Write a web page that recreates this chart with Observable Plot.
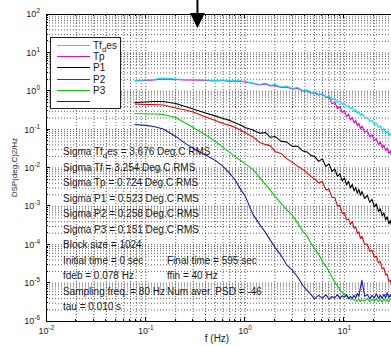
<!DOCTYPE html>
<html><head><meta charset="utf-8">
<script src="https://cdn.jsdelivr.net/npm/d3@7"></script>
<script src="https://cdn.jsdelivr.net/npm/@observablehq/plot@0.6"></script>
<style>
body{margin:0;background:#fff;}
#chart{width:391px;height:346px;overflow:hidden;}
</style></head><body><div id="chart"></div>
<script>
// frequency grid (Hz)
const freqHz = [0.078,0.1,0.12,0.15,0.2,0.25,0.3,0.4,0.5,0.6,0.7,0.8,0.9,1.0,
  1.2,1.4,1.6,1.8,2.0,2.3,2.6,3.0,3.4,3.8,4.2,4.6,5.0,
  5.5,6,6.5,7,7.5,8,8.5,9,9.5,10,10.5,11,11.5,12,12.5,13,13.5,14,14.5,15,
  16,17,18,19,20,21,22,23,24,25,26,27,28,29,30];

// PSD series (deg.C^2/Hz)
const psdTfDes = [1.91,1.97,2.03,2.22,2.09,2.03,2.03,1.97,1.91,1.97,1.85,1.91,1.85,1.80,
  1.64,1.50,1.64,1.42,1.50,1.29,1.37,1.18,1.26,1.05,1.08,0.93,0.96,
  0.83,0.85,0.71,0.73,0.61,0.65,0.51,0.56,0.45,0.48,0.39,0.43,0.346,0.378,0.298,0.336,0.264,0.298,0.234,0.264,
  0.202,0.208,0.164,0.174,0.136,0.149,0.114,0.125,0.095,0.107,0.080,0.090,0.069,0.080,0.063];
const psdTf = [1.85,1.91,1.97,2.09,2.03,1.97,1.97,1.91,1.85,1.91,1.80,1.85,1.80,1.75,
  1.60,1.46,1.55,1.37,1.42,1.26,1.29,1.15,1.18,1.02,1.02,0.90,0.90,
  0.80,0.85,0.690,0.702,0.472,0.518,0.356,0.400,0.277,0.313,0.221,0.252,0.180,0.208,0.149,0.174,0.125,0.146,0.106,0.125,
  0.0851,0.0942,0.0650,0.0733,0.0514,0.0583,0.0414,0.0475,0.034,0.0394,0.0284,0.033,0.024,0.0282,0.0195];
const psdTp = [0.51,0.526,0.542,0.542,0.48,0.402,0.346,0.272,0.228,0.196,0.174,0.149,0.132,0.114,
  0.098,0.080,0.0845,0.063,0.0665,0.0493,0.0479,0.0365,0.0365,0.0279,0.0262,0.0213,0.020,
  0.0149,0.0173,0.011,0.0128,0.00815,0.00948,0.00604,0.00702,0.00461,0.00552,0.00363,0.00448,0.00303,0.00374,0.00253,0.00313,0.00218,0.00277,0.00193,0.00246,
  0.00161,0.00193,0.00127,0.00152,0.00097,0.00116,0.000741,0.000861,0.000566,0.000678,0.000445,0.000533,0.00035,0.000432,0.000292];
const psdP1 = [0.467,0.453,0.453,0.44,0.367,0.326,0.289,0.214,0.174,0.145,0.129,0.114,0.098,0.0845,
  0.0646,0.0464,0.0412,0.0377,0.027,0.024,0.0178,0.014,0.011,0.0092,0.00745,0.00604,0.0052,
  0.00409,0.00448,0.00269,0.00277,0.00171,0.00171,0.00103,0.00106,0.000658,0.000678,0.000445,0.000472,0.00034,0.000406,0.000267,0.000292,0.000198,0.000217,0.000147,0.000166,
  0.000102,0.000105,0.0000673,0.0000714,0.000047,0.0000499,0.0000338,0.000037,0.0000236,0.000025,0.0000164,0.0000169,0.0000111,0.0000118,0.0000078];
const psdP2 = [0.264,0.256,0.256,0.249,0.208,0.149,0.114,0.0728,0.0493,0.0344,0.0255,0.0195,0.0158,0.0128,
  0.0092,0.00569,0.00374,0.00261,0.00182,0.0012,0.000836,0.000583,0.000361,0.000223,0.000171,0.000109,0.0000805,
  0.0000562,0.000037,0.0000274,0.0000203,0.0000142,0.0000105,0.0000085,0.0000069,0.0000056,0.0000051,0.0000044,0.0000043,0.0000038,0.0000039,0.0000036,0.0000037,0.0000034,0.0000038,0.0000033,0.0000037,
  0.0000034,0.000004,0.0000033,0.0000038,0.0000034,0.0000039,0.0000033,0.0000038,0.0000032,0.0000039,0.0000034,0.0000038,0.0000032,0.000004,0.0000036];
const psdP3 = [0.136,0.129,0.121,0.104,0.0665,0.0438,0.0324,0.0219,0.0158,0.011,0.00723,0.00475,0.00277,0.00188,
  0.00062,0.00034,0.00021,0.00013,0.0000855,0.000053,0.0000309,0.0000215,0.0000142,0.0000088,0.0000065,0.0000051,0.0000039,
  0.0000048,0.000004,0.000005,0.0000038,0.0000045,0.0000041,0.0000051,0.000004,0.0000047,0.0000043,0.0000051,0.0000039,0.0000045,0.000004,0.0000048,0.0000041,0.0000054,0.0000045,0.0000078,0.0000118,
  0.0000045,0.0000051,0.0000039,0.0000048,0.0000041,0.0000053,0.000004,0.0000048,0.000004,0.0000051,0.0000041,0.0000056,0.0000042,0.000005,0.000004];

// draw order (first = bottom) and colours
const seriesOrder = ["Tf", "TfDes", "Tp", "P1", "P2", "P3"];
const seriesValues = {TfDes: psdTfDes, Tf: psdTf, Tp: psdTp, P1: psdP1, P2: psdP2, P3: psdP3};
const seriesColors = {TfDes: "#00e4e4", Tf: "#e600e6", Tp: "#000000", P1: "#e80000", P2: "#00cc00", P3: "#1818b4"};

// legend (as printed in the figure)
const legendLabels = ["Tf{d}es", "Tp", "P1", "P2", "P3", ""];
const legendColors = ["#00e4e4", "#e600e6", "#000000", "#e80000", "#00cc00", "#1818b4"];

// annotation text lines: [left column, right column]
const statLines = [
  ["Sigma Tf{d}es = 3.676 Deg.C RMS", ""],
  ["Sigma Tf = 3.254 Deg.C RMS", ""],
  ["Sigma Tp = 0.724 Deg.C RMS", ""],
  ["Sigma P1 = 0.523 Deg.C RMS", ""],
  ["Sigma P2 = 0.258 Deg.C RMS", ""],
  ["Sigma P3 = 0.151 Deg.C RMS", ""],
  ["Block size = 1024", ""],
  ["Initial time = 0 sec", "Final time = 595 sec"],
  ["fdeb = 0.078 Hz", "ffin = 40 Hz"],
  ["Sampling freq. = 80 Hz", "Num aver. PSD = -46"],
  ["tau = 0.010 s", ""]
];

const xTickValues = [0.01, 0.1, 1, 10];
const yTickValues = [1e-6, 1e-5, 1e-4, 1e-3, 1e-2, 1e-1, 1, 10, 100];
const xLabel = "f (Hz)";
const yLabel = "DSP(deg.C)2/Hz";
const arrowFreq = 0.335;

// grid values (1..9 per decade)
const xGrid = [], yGrid = [];
for (const d of [0.01, 0.1, 1, 10]) for (let k = 1; k <= 9; k++) { const v = +(d * k).toPrecision(3); if (v <= 29.8) xGrid.push(v); }
for (let e = -6; e <= 1; e++) for (let k = 1; k <= 9; k++) yGrid.push(k * Math.pow(10, e));
yGrid.push(100);

const rowsOf = key => freqHz.map((f, i) => ({f, v: seriesValues[key][i]}));

const FONT = "'Liberation Sans', Arial, Helvetica, sans-serif";

const plot = Plot.plot({
  width: 391, height: 346,
  marginLeft: 46, marginRight: 0, marginTop: 14, marginBottom: 25,
  style: {fontFamily: FONT, background: "#fff", overflow: "hidden"},
  x: {type: "log", domain: [0.01, 29.8]},
  y: {type: "log", domain: [1e-6, 1e2]},
  marks: [
    Plot.ruleX(xGrid, {stroke: "#444", strokeDasharray: "1,2", strokeOpacity: 0.85}),
    Plot.ruleY(yGrid, {stroke: "#444", strokeDasharray: "1,2", strokeOpacity: 0.85}),
    ...seriesOrder.map(key => Plot.line(rowsOf(key), {x: "f", y: "v", stroke: seriesColors[key], strokeWidth: 1.1})),
    Plot.ruleX([0.01], {stroke: "#000"}),
    Plot.ruleY([1e-6, 1e2], {stroke: "#000"}),
    Plot.axisX({ticks: xTickValues, tickFormat: d => String(Math.round(Math.log10(d))), tickSize: 0, tickPadding: 6.5, fontSize: 9, label: null, fill: "#222"}),
    Plot.axisY({ticks: yTickValues, tickFormat: d => String(Math.round(Math.log10(d))), tickSize: 0, tickPadding: 6.5, fontSize: 9, label: null, fill: "#222"})
  ]
});

document.getElementById("chart").appendChild(plot);
const svg = d3.select(plot);
const xs = plot.scale("x"), ys = plot.scale("y");
const X = v => xs.apply(v), Y = v => ys.apply(v);

// rewrite tick labels as 10^n
svg.selectAll("g[aria-label='x-axis tick label'] text, g[aria-label='y-axis tick label'] text").each(function () {
  const exp = this.textContent;
  const s = d3.select(this);
  s.text(null);
  s.append("tspan").text("10");
  s.append("tspan").attr("dy", -4).attr("font-size", 6.5).text(exp);
});

// inward ticks
const tg = svg.append("g").attr("stroke", "#000").attr("shape-rendering", "crispEdges");
const x0 = X(0.01), yB = Y(1e-6), yT = Y(1e2);
for (const v of yGrid) {
  const len = yTickValues.includes(v) ? 4 : 2;
  tg.append("line").attr("x1", x0).attr("x2", x0 + len).attr("y1", Y(v)).attr("y2", Y(v));
}
for (const v of xGrid) {
  const len = xTickValues.includes(v) ? 4 : 2;
  tg.append("line").attr("x1", X(v)).attr("x2", X(v)).attr("y1", yB).attr("y2", yB - len);
  tg.append("line").attr("x1", X(v)).attr("x2", X(v)).attr("y1", yT).attr("y2", yT + len);
}

function rich(textSel, str) {
  const parts = str.split(/(\{[^}]*\})/);
  let sub = false;
  for (const p of parts) {
    if (!p) continue;
    if (p.startsWith("{")) {
      textSel.append("tspan").attr("dy", 2.5).attr("font-size", "0.8em").text(p.slice(1, -1));
      sub = true;
    } else {
      const t = textSel.append("tspan").text(p);
      if (sub) { t.attr("dy", -2.5); sub = false; }
    }
  }
}

// annotation texts
const ag = svg.append("g").attr("font-family", FONT).attr("font-size", 10).attr("fill", "#1a1a1a").attr("text-anchor", "start");
statLines.forEach((row, i) => {
  const yb = 155 + i * 15.5;
  rich(ag.append("text").attr("x", 63).attr("y", yb), row[0]);
  if (row[1]) rich(ag.append("text").attr("x", 167).attr("y", yb), row[1]);
});

// legend
const lg = svg.append("g").attr("font-family", FONT).attr("font-size", 10).attr("text-anchor", "start");
lg.append("rect").attr("x", 50.5).attr("y", 37.5).attr("width", 70).attr("height", 71)
  .attr("fill", "#fff").attr("stroke", "#222").attr("stroke-width", 1);
legendLabels.forEach((lab, i) => {
  const yy = Math.round(45 + i * 11.2) + 0.5;
  lg.append("line").attr("x1", 57).attr("x2", 90).attr("y1", yy).attr("y2", yy).attr("stroke", legendColors[i]).attr("stroke-width", 1);
  if (lab) rich(lg.append("text").attr("x", 93).attr("y", yy + 3.5).attr("fill", "#1a1a1a"), lab);
});

// axis titles
svg.append("text").attr("x", 217).attr("y", 342).attr("text-anchor", "middle")
  .attr("font-family", FONT).attr("font-size", 10).attr("fill", "#222").text(xLabel);
svg.append("text").attr("transform", `translate(16.5,${(yB + yT) / 2}) rotate(-90)`).attr("text-anchor", "middle")
  .attr("font-family", FONT).attr("font-size", 8).attr("fill", "#222").text(yLabel);

// arrow annotation
const ax = X(arrowFreq);
svg.append("line").attr("x1", ax).attr("x2", ax).attr("y1", 0).attr("y2", 15).attr("stroke", "#000").attr("stroke-width", 2);
svg.append("path").attr("d", `M${ax - 7.5},13L${ax + 7.5},13L${ax},28Z`).attr("fill", "#000");
</script>
</body></html>
